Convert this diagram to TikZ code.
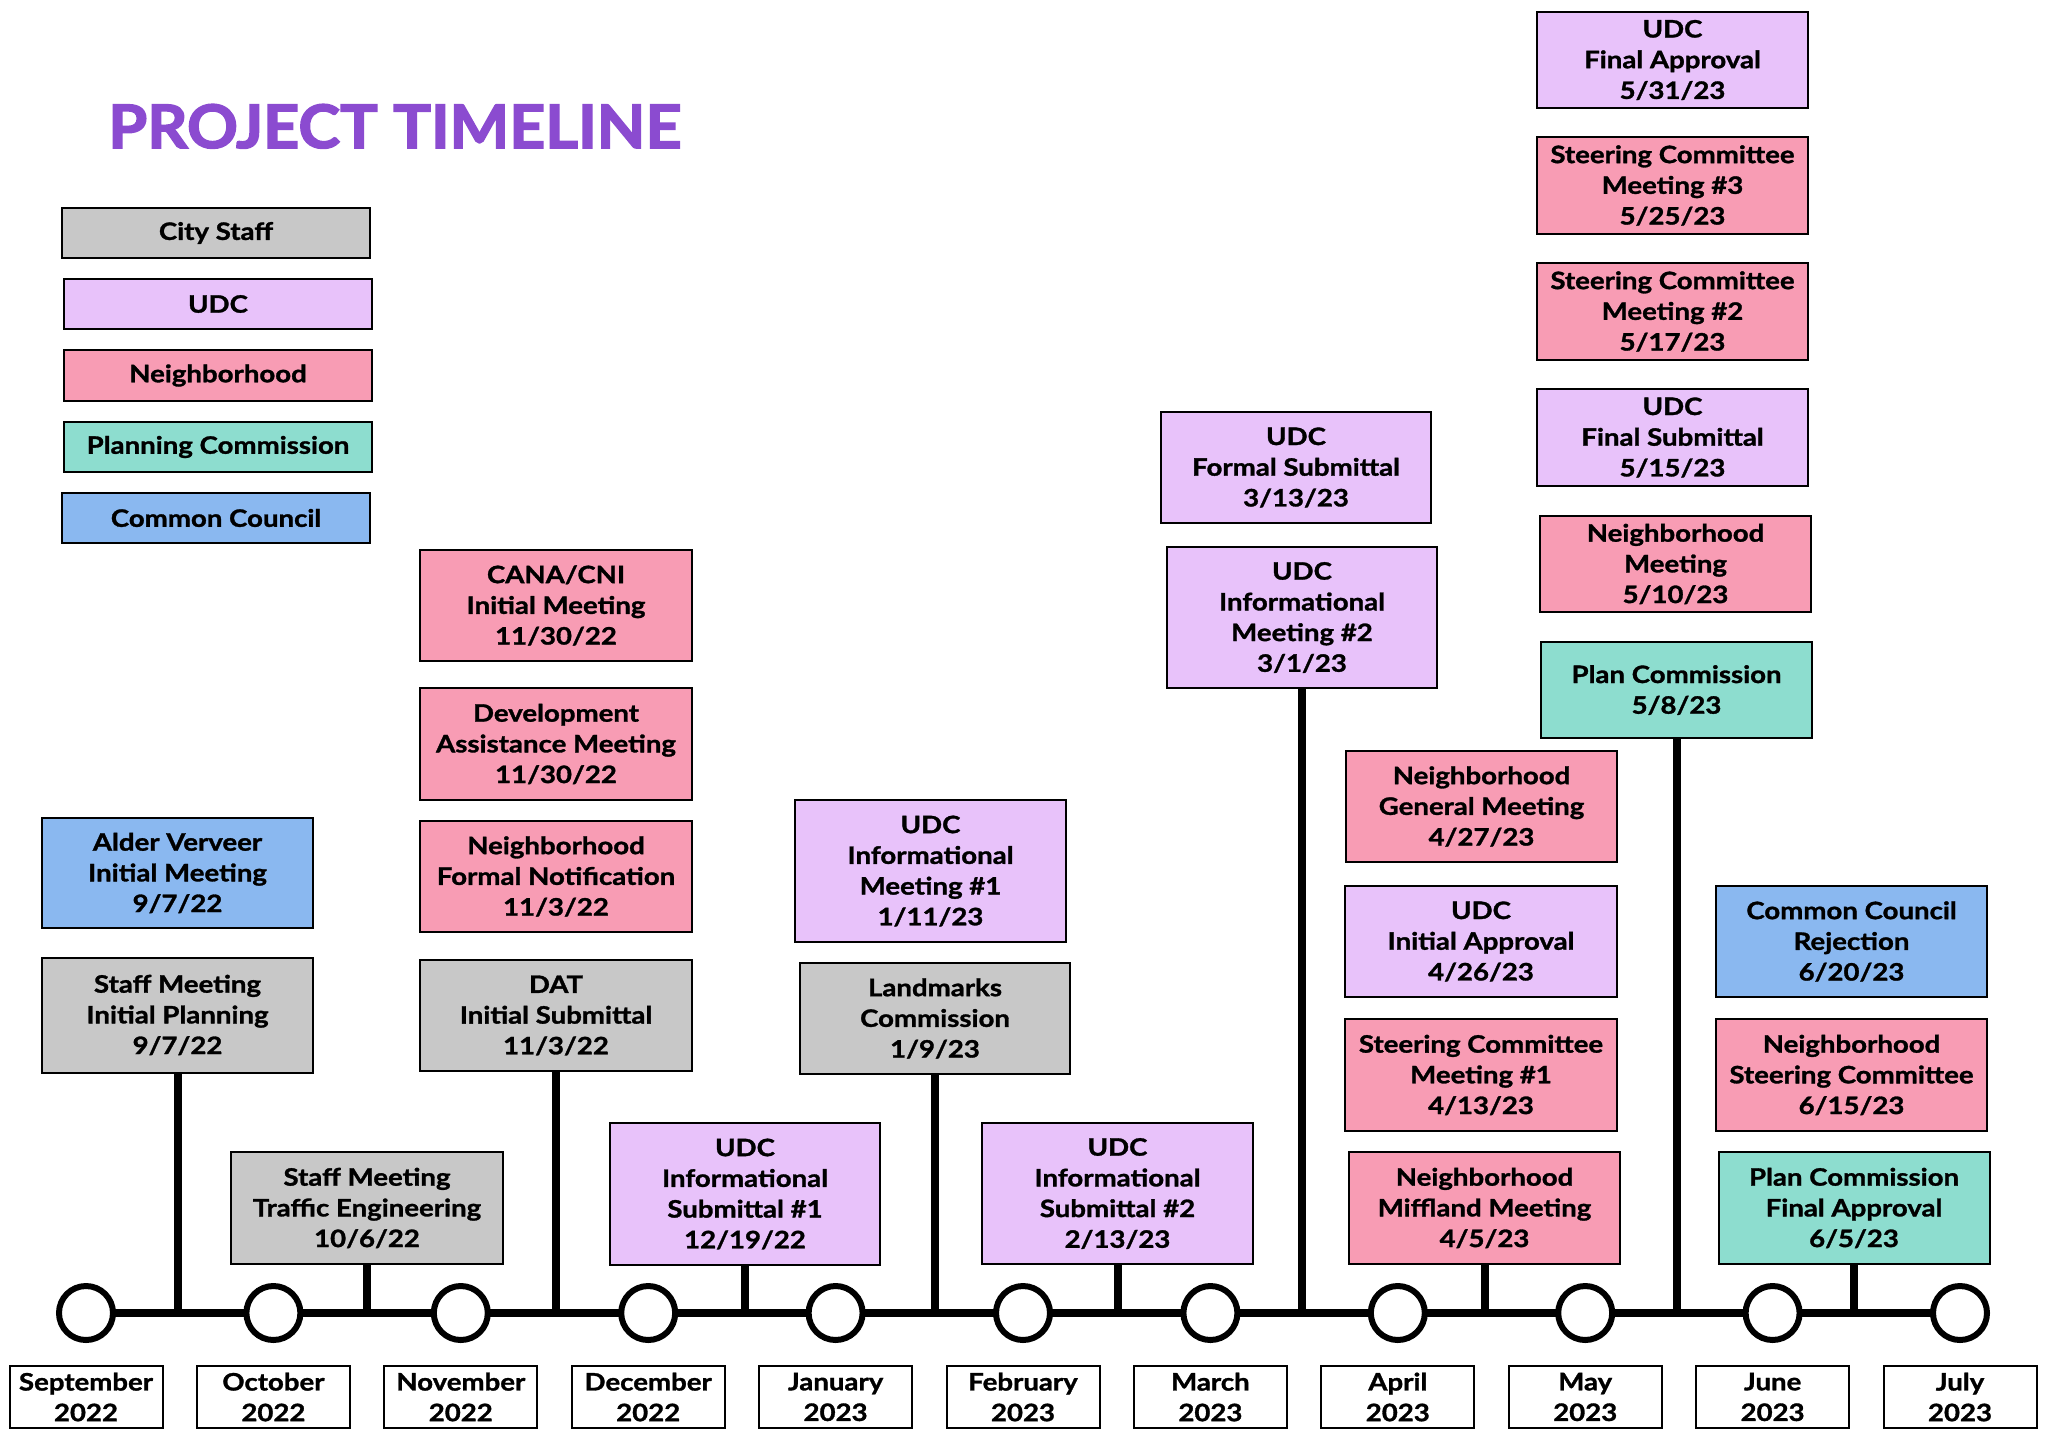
\documentclass[tikz,border=0pt]{standalone}
\usepackage{fontspec}
\newfontfamily\latofam{Lato}[FakeStretch=1.15,FakeBold=1.3]
\newfontfamily\titlefam{Lato}[FakeStretch=1.05,FakeBold=2.5]
\definecolor{staffc}{RGB}{200,200,200}
\definecolor{udcc}{RGB}{232,194,250}
\definecolor{nbhc}{RGB}{248,156,180}
\definecolor{planc}{RGB}{141,221,207}
\definecolor{councilc}{RGB}{138,184,240}
\definecolor{titlec}{RGB}{139,75,208}
\tikzset{
  evfont/.style={font={\latofam\bfseries\fontsize{24}{30.7}\selectfont}},
  box/.style={draw=black, line width=2pt, align=center, inner sep=0pt, evfont, text=black},
  staff/.style={box, fill=staffc},
  udc/.style={box, fill=udcc},
  nbh/.style={box, fill=nbhc},
  plan/.style={box, fill=planc},
  council/.style={box, fill=councilc},
  stem/.style={line width=8pt},
  axis/.style={line width=8pt},
  dot/.style={circle, draw=black, line width=6pt, fill=white, minimum size=54pt, inner sep=0pt},
  month/.style={draw=black, line width=2pt, fill=white, minimum width=153pt, minimum height=62pt, align=center, inner sep=0pt, evfont},
}
\begin{document}
\begin{tikzpicture}[x=1pt,y=-1pt]
\useasboundingbox[fill=white] (0,0) rectangle (2049,1429);

% title
\node[anchor=base west, inner sep=0pt, text=titlec, font={\titlefam\bfseries\fontsize{60}{60}\selectfont}] (title) at (108,148) {PROJECT TIMELINE};

% legend
\node[staff, minimum width=308pt, minimum height=50pt] (lcs) at (216,233) {City Staff};
\node[udc, minimum width=308pt, minimum height=50pt] (ludc) at (218,304) {UDC};
\node[nbh, minimum width=308pt, minimum height=51pt] (lnbh) at (218,375.5) {Neighborhood};
\node[plan, minimum width=308pt, minimum height=50pt] (lpc) at (218,447) {Planning Commission};
\node[council, minimum width=308pt, minimum height=50pt] (lcc) at (216,518) {Common Council};

% timeline coordinates
\foreach \i in {0,...,10} {
  \coordinate (m\i) at ({86+187.4*\i},1313);
}
\draw[axis] (m0) -- (m10);

% stem anchors on the timeline
\coordinate (t1) at (177.5,1313);
\coordinate (t2) at (367,1313);
\coordinate (t3) at (556,1313);
\coordinate (t4) at (745,1313);
\coordinate (t5) at (935,1313);
\coordinate (t6) at (1117.5,1313);
\coordinate (t7) at (1302,1313);
\coordinate (t8) at (1484.5,1313);
\coordinate (t9) at (1676.5,1313);
\coordinate (t10) at (1854,1313);

% events
\node[council, minimum width=271pt, minimum height=110pt] (av) at (177.5,873) {Alder Verveer\\Initial Meeting\\9/7/22};
\node[staff, minimum width=271pt, minimum height=115pt] (smip) at (177.5,1015) {Staff Meeting\\Initial Planning\\9/7/22};
\node[staff, minimum width=272pt, minimum height=112pt] (smte) at (367,1208) {Staff Meeting\\Traffic Engineering\\10/6/22};
\node[nbh, minimum width=272pt, minimum height=111pt] (cana) at (556,605.5) {CANA/CNI\\Initial Meeting\\11/30/22};
\node[nbh, minimum width=272pt, minimum height=112pt] (dam) at (556,744) {Development\\Assistance Meeting\\11/30/22};
\node[nbh, minimum width=272pt, minimum height=111pt] (nfn) at (556,876.5) {Neighborhood\\Formal Notification\\11/3/22};
\node[staff, minimum width=272pt, minimum height=111pt] (dat) at (556,1015.5) {DAT\\Initial Submittal\\11/3/22};
\node[udc, minimum width=270pt, minimum height=142pt] (uis1) at (745,1194) {UDC\\Informational\\Submittal \#1\\12/19/22};
\node[udc, minimum width=271pt, minimum height=142pt] (uim1) at (930.5,871) {UDC\\Informational\\Meeting \#1\\1/11/23};
\node[staff, minimum width=270pt, minimum height=111pt] (lmc) at (935,1018.5) {Landmarks\\Commission\\1/9/23};
\node[udc, minimum width=271pt, minimum height=141pt] (uis2) at (1117.5,1193.5) {UDC\\Informational\\Submittal \#2\\2/13/23};
\node[udc, minimum width=270pt, minimum height=111pt] (ufs) at (1296,467.5) {UDC\\Formal Submittal\\3/13/23};
\node[udc, minimum width=270pt, minimum height=141pt] (uim2) at (1302,617.5) {UDC\\Informational\\Meeting \#2\\3/1/23};
\node[nbh, minimum width=271pt, minimum height=111pt] (ngm) at (1481.5,806.5) {Neighborhood\\General Meeting\\4/27/23};
\node[udc, minimum width=272pt, minimum height=111pt] (uia) at (1481,941.5) {UDC\\Initial Approval\\4/26/23};
\node[nbh, minimum width=272pt, minimum height=112pt] (sc1) at (1481,1075) {Steering Committee\\Meeting \#1\\4/13/23};
\node[nbh, minimum width=271pt, minimum height=112pt] (nmm) at (1484.5,1208) {Neighborhood\\Miffland Meeting\\4/5/23};
\node[udc, minimum width=271pt, minimum height=96pt] (ufa) at (1672.5,60) {UDC\\Final Approval\\5/31/23};
\node[nbh, minimum width=271pt, minimum height=97pt] (sc3) at (1672.5,185.5) {Steering Committee\\Meeting \#3\\5/25/23};
\node[nbh, minimum width=271pt, minimum height=97pt] (sc2) at (1672.5,311.5) {Steering Committee\\Meeting \#2\\5/17/23};
\node[udc, minimum width=271pt, minimum height=97pt] (ufsub) at (1672.5,437.5) {UDC\\Final Submittal\\5/15/23};
\node[nbh, minimum width=271pt, minimum height=96pt] (nm) at (1675.5,564) {Neighborhood\\Meeting\\5/10/23};
\node[plan, minimum width=271pt, minimum height=96pt] (pc) at (1676.5,690) {Plan Commission\\5/8/23};
\node[council, minimum width=271pt, minimum height=111pt] (ccr) at (1851.5,941.5) {Common Council\\Rejection\\6/20/23};
\node[nbh, minimum width=271pt, minimum height=112pt] (nsc) at (1851.5,1075) {Neighborhood\\Steering Committee\\6/15/23};
\node[plan, minimum width=271pt, minimum height=112pt] (pcfa) at (1854,1208) {Plan Commission\\Final Approval\\6/5/23};

% stems
\draw[stem] (smip.south) -- (t1);
\draw[stem] (smte.south) -- (t2);
\draw[stem] (dat.south) -- (t3);
\draw[stem] (uis1.south) -- (t4);
\draw[stem] (lmc.south) -- (t5);
\draw[stem] (uis2.south) -- (t6);
\draw[stem] (uim2.south) -- (t7);
\draw[stem] (nmm.south) -- (t8);
\draw[stem] (pc.south) -- (t9);
\draw[stem] (pcfa.south) -- (t10);

% month circles and labels
\foreach \i/\mo/\yr in {0/September/2022,1/October/2022,2/November/2022,3/December/2022,4/January/2023,5/February/2023,6/March/2023,7/April/2023,8/May/2023,9/June/2023,10/July/2023} {
  \node[dot] (c\i) at (m\i) {};
  \node[month] (lab\i) at ({86+187.4*\i},1397) {\mo\\\yr};
}
\end{tikzpicture}
\end{document}
